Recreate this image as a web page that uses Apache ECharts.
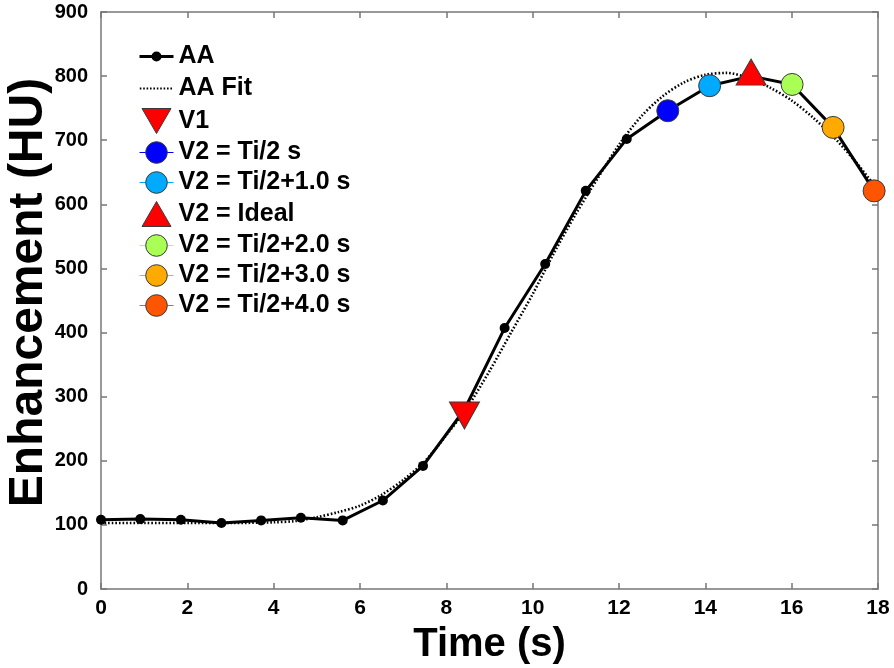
<!DOCTYPE html>
<html>
<head>
<meta charset="utf-8">
<script src="https://cdn.jsdelivr.net/npm/echarts@6/dist/echarts.min.js"></script>
<style>
html,body{margin:0;padding:0;background:#fff;}
#chart{width:894px;height:668px;}
</style>
</head>
<body>
<div id="chart"></div>
<script>
// ---- data ----
const aaTime  = [0, 0.91, 1.85, 2.79, 3.71, 4.63, 5.60, 6.53, 7.46, 8.42, 9.35, 10.29, 11.23, 12.18, 13.13, 14.10, 15.06, 16.01, 16.96, 17.91];
const aaValue = [108, 109, 108, 103, 107, 111, 107, 138, 192, 280, 407, 507, 621, 702, 746, 785, 800, 787, 720, 621];

const fitTime  = [0, 1, 2, 3, 4, 4.5, 5, 5.5, 6, 6.5, 7, 7.5, 8, 8.5, 9, 9.5, 10, 10.5, 11, 11.5, 12, 12.5, 13, 13.5, 14, 14.5, 15, 15.5, 16, 16.5, 17, 17.5, 18];
const fitValue = [103, 103, 103, 103, 104, 106, 112, 120, 130, 147, 170, 199, 240, 285, 340, 400, 460, 525, 585, 640, 693, 736, 768, 790, 802, 805, 797, 782, 762, 735, 703, 665, 622];

const v1Point       = [8.42, 280];
const vHalfPoint    = [13.13, 746];
const vHalf1Point   = [14.10, 785];
const vIdealPoint   = [15.06, 800];
const vHalf2Point   = [16.01, 787];
const vHalf3Point   = [16.96, 720];
const vHalf4Point   = [17.91, 621];

const xTicks = [0, 2, 4, 6, 8, 10, 12, 14, 16, 18];
const yTicks = [0, 100, 200, 300, 400, 500, 600, 700, 800, 900];

const seriesNames = ['AA', 'AA Fit', 'V1', 'V2 = Ti/2 s', 'V2 = Ti/2+1.0 s', 'V2 = Ideal', 'V2 = Ti/2+2.0 s', 'V2 = Ti/2+3.0 s', 'V2 = Ti/2+4.0 s'];
const xLabel = 'Time (s)';
const yLabel = 'Enhancement (HU)';
// --------------------------------------

const FONT = "'Liberation Sans', Arial, Helvetica, sans-serif";
const AXIS_COLOR = '#777777';
const BORDER = '#3a3a3a';

function zip(a, b) { return a.map((v, i) => [v, b[i]]); }

// legend icons (34 x 27 box)
const W = 34, H = 27;
const corners = 'M0,0 M' + W + ',' + H + ' ';
const iconAA = 'path://' + corners +
  'M0,12 L34,12 L34,15 L0,15 Z ' +
  'M12,13.5 A5,5 0 1 1 22,13.5 A5,5 0 1 1 12,13.5 Z';
let dots = '';
for (let x = 0.3; x < W - 1; x += 3.4) {
  dots += 'M' + x.toFixed(2) + ',12.5 L' + (x + 1.6).toFixed(2) + ',12.5 L' + (x + 1.6).toFixed(2) + ',14.5 L' + x.toFixed(2) + ',14.5 Z ';
}
const iconFit = 'path://' + corners + dots;
const iconDown = 'path://' + corners + 'M2.5,1 L31.5,1 L17,26 Z';
const iconUp = 'path://' + corners + 'M17,1 L31.5,26 L2.5,26 Z';

const markerSeries = [
  { name: seriesNames[2], pt: v1Point, color: '#FF0000', symbol: 'triangle', rotate: 180, size: [30, 27], offset: [0, 6] },
  { name: seriesNames[3], pt: vHalfPoint, color: '#0000FF', symbol: 'circle', size: 22 },
  { name: seriesNames[4], pt: vHalf1Point, color: '#00AAFF', symbol: 'circle', size: 22 },
  { name: seriesNames[5], pt: vIdealPoint, color: '#FF0000', symbol: 'triangle', rotate: 0, size: [30, 26], offset: [0, -4] },
  { name: seriesNames[6], pt: vHalf2Point, color: '#AAFF55', symbol: 'circle', size: 22 },
  { name: seriesNames[7], pt: vHalf3Point, color: '#FFAA00', symbol: 'circle', size: 22 },
  { name: seriesNames[8], pt: vHalf4Point, color: '#FF5500', symbol: 'circle', size: 22 }
];

const series = [
  {
    name: seriesNames[0], type: 'line', data: zip(aaTime, aaValue),
    xAxisIndex: 0, yAxisIndex: 0,
    symbol: 'circle', symbolSize: 10, showAllSymbol: true,
    lineStyle: { color: '#000', width: 3 },
    itemStyle: { color: '#000' },
    z: 3, silent: true, animation: false
  },
  {
    name: seriesNames[1], type: 'line', data: zip(fitTime, fitValue),
    xAxisIndex: 0, yAxisIndex: 0,
    showSymbol: false, symbol: 'none', smooth: 0.3,
    lineStyle: { color: '#000', width: 2.6, type: [1.6, 2.0] },
    itemStyle: { color: '#000' },
    z: 4, silent: true, animation: false
  }
];
markerSeries.forEach(m => {
  series.push({
    name: m.name, type: 'line', data: [m.pt],
    xAxisIndex: 0, yAxisIndex: 0,
    symbol: m.symbol, symbolSize: m.size, symbolRotate: m.rotate || 0,
    symbolOffset: m.offset || [0, 0],
    lineStyle: { color: m.color, width: 1 },
    itemStyle: { color: m.color, borderColor: BORDER, borderWidth: 1 },
    z: 5, silent: true, animation: false, clip: false
  });
});

const legendData = [
  { name: seriesNames[0], icon: iconAA, itemStyle: { color: '#000', borderWidth: 0 } },
  { name: seriesNames[1], icon: iconFit, itemStyle: { color: '#000', borderWidth: 0 } },
  { name: seriesNames[2], icon: iconDown, itemStyle: { color: '#FF0000', borderColor: BORDER, borderWidth: 1 } },
  { name: seriesNames[3], lineStyle: { width: 1, color: '#0000FF' }, itemStyle: { color: '#0000FF', borderColor: BORDER, borderWidth: 1 } },
  { name: seriesNames[4], lineStyle: { width: 1, color: '#00AAFF' }, itemStyle: { color: '#00AAFF', borderColor: BORDER, borderWidth: 1 } },
  { name: seriesNames[5], icon: iconUp, itemStyle: { color: '#FF0000', borderColor: BORDER, borderWidth: 1 } },
  { name: seriesNames[6], lineStyle: { width: 1, color: '#AAFF55' }, itemStyle: { color: '#AAFF55', borderColor: BORDER, borderWidth: 1 } },
  { name: seriesNames[7], lineStyle: { width: 1, color: '#FFAA00' }, itemStyle: { color: '#FFAA00', borderColor: BORDER, borderWidth: 1 } },
  { name: seriesNames[8], lineStyle: { width: 1, color: '#FF5500' }, itemStyle: { color: '#FF5500', borderColor: BORDER, borderWidth: 1 } }
];

const tickLabel = { fontFamily: FONT, fontWeight: 'bold', fontSize: 21, color: '#000' };

const option = {
  backgroundColor: '#ffffff',
  animation: false,
  grid: { left: 101, right: 16, top: 12, bottom: 79, containLabel: false, outerBoundsMode: 'none' },
  legend: {
    orient: 'vertical', left: 139, top: 43, padding: 0,
    itemWidth: W, itemHeight: H, itemGap: 5, itemTextGap: 0,
    selectedMode: false,
    textStyle: { fontFamily: FONT, fontWeight: 'bold', fontSize: 25, color: '#000' },
    data: legendData
  },
  xAxis: [
    {
      type: 'value', position: 'bottom', min: xTicks[0], max: xTicks[xTicks.length - 1], interval: 2,
      name: xLabel, nameLocation: 'middle', nameGap: 36, nameMoveOverlap: false,
      nameTextStyle: { fontFamily: FONT, fontWeight: 'bold', fontSize: 40, color: '#000' },
      axisLine: { show: true, onZero: false, lineStyle: { color: AXIS_COLOR, width: 1.5 } },
      axisTick: { show: true, inside: true, length: 6, lineStyle: { color: AXIS_COLOR, width: 1.5 } },
      axisLabel: Object.assign({ margin: 9 }, tickLabel),
      splitLine: { show: false }
    },
    {
      type: 'value', position: 'top', min: xTicks[0], max: xTicks[xTicks.length - 1], interval: 2,
      axisLine: { show: true, onZero: false, lineStyle: { color: AXIS_COLOR, width: 1.5 } },
      axisTick: { show: true, inside: true, length: 6, lineStyle: { color: AXIS_COLOR, width: 1.5 } },
      axisLabel: { show: false },
      splitLine: { show: false }
    }
  ],
  yAxis: [
    {
      type: 'value', position: 'left', min: yTicks[0], max: yTicks[yTicks.length - 1], interval: 100,
      name: yLabel, nameLocation: 'middle', nameGap: 48, nameRotate: 90, nameMoveOverlap: false,
      nameTextStyle: { fontFamily: FONT, fontWeight: 'bold', fontSize: 48, color: '#000', padding: [0, 0, 0, 16] },
      axisLine: { show: true, onZero: false, lineStyle: { color: AXIS_COLOR, width: 1.5 } },
      axisTick: { show: true, inside: true, length: 6, lineStyle: { color: AXIS_COLOR, width: 1.5 } },
      axisLabel: Object.assign({ margin: 13 }, tickLabel, { fontSize: 20 }),
      splitLine: { show: false }
    },
    {
      type: 'value', position: 'right', min: yTicks[0], max: yTicks[yTicks.length - 1], interval: 100,
      axisLine: { show: true, onZero: false, lineStyle: { color: AXIS_COLOR, width: 1.5 } },
      axisTick: { show: true, inside: true, length: 6, lineStyle: { color: AXIS_COLOR, width: 1.5 } },
      axisLabel: { show: false },
      splitLine: { show: false }
    }
  ],
  series: series
};

const chart = echarts.init(document.getElementById('chart'), null, { renderer: 'canvas' });
chart.setOption(option);
</script>
</body>
</html>
